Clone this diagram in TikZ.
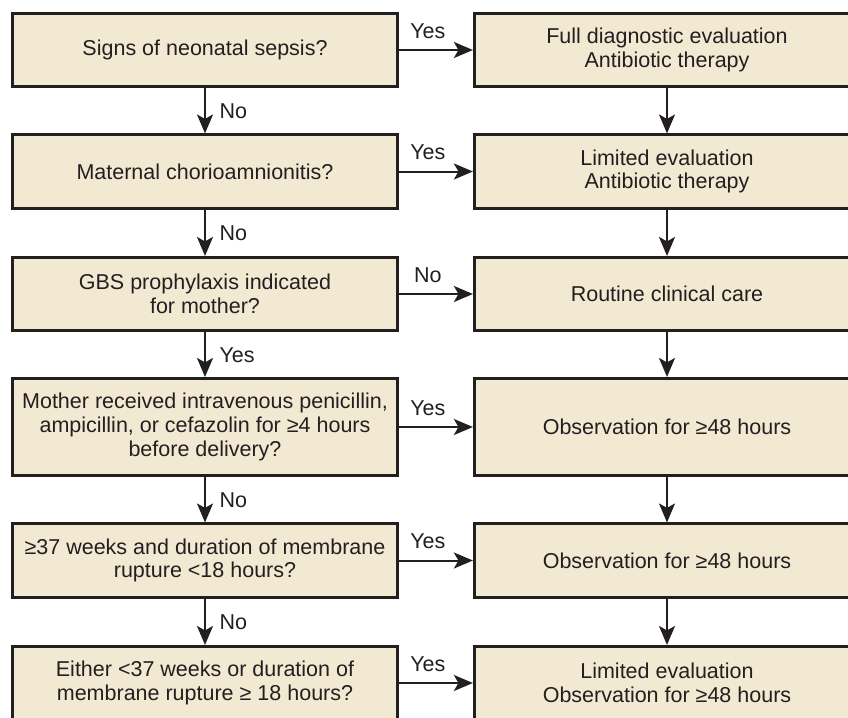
\documentclass[tikz,border=0pt]{standalone}
\usepackage{fontspec}
\setmainfont{Liberation Sans}
\usetikzlibrary{arrows.meta}
\definecolor{boxfill}{RGB}{242,233,211}
\definecolor{ink}{RGB}{35,31,32}
\begin{document}
\begin{tikzpicture}[x=1pt,y=-1pt,
  box/.style={draw=ink, fill=boxfill, line width=2.7pt, minimum width=385.5pt,
    minimum height=73.4pt, align=center, text=ink,
    font=\fontsize{21.5}{23.8}\selectfont, inner sep=0pt},
  tall/.style={minimum height=97.4pt},
  arr/.style={draw=ink, line width=2pt, -{Stealth[length=19pt,width=16pt,inset=4.5pt]}},
  lbl/.style={inner sep=0pt, text=ink, font=\fontsize{21.5}{23.8}\selectfont}]
\clip (0,0) rectangle (848,717);
\fill[white] (0,0) rectangle (848,717);
% left column
\node[box] (L1) at (205,50) {Signs of neonatal sepsis?};
\node[box] (L2) at (205,171.5) {Maternal chorioamnionitis?};
\node[box] (L3) at (205,294) {GBS prophylaxis indicated\\for mother?};
\node[box,tall] (L4) at (205,427) {Mother received intravenous penicillin,\\ampicillin, or cefazolin for ≥4 hours\\before delivery?};
\node[box] (L5) at (205,560.5) {≥37 weeks and duration of membrane\\rupture <18 hours?};
\node[box] (L6) at (205,683) {Either <37 weeks or duration of\\membrane rupture ≥ 18 hours?};
% right column
\node[box] (R1) at (667,50) {Full diagnostic evaluation\\Antibiotic therapy};
\node[box] (R2) at (667,171.5) {Limited evaluation\\Antibiotic therapy};
\node[box] (R3) at (667,294) {Routine clinical care};
\node[box,tall] (R4) at (667,427) {Observation for ≥48 hours};
\node[box] (R5) at (667,560.5) {Observation for ≥48 hours};
\node[box] (R6) at (667,683) {Limited evaluation\\Observation for ≥48 hours};
% horizontal arrows
\draw[arr] (L1.east) -- (R1.west) node[lbl, pos=0.39, anchor=base, yshift=12pt] {Yes};
\draw[arr] (L2.east) -- (R2.west) node[lbl, pos=0.39, anchor=base, yshift=12pt] {Yes};
\draw[arr] (L3.east) -- (R3.west) node[lbl, pos=0.39, anchor=base, yshift=12pt] {No};
\draw[arr] (L4.east) -- (R4.west) node[lbl, pos=0.39, anchor=base, yshift=12pt] {Yes};
\draw[arr] (L5.east) -- (R5.west) node[lbl, pos=0.39, anchor=base, yshift=12pt] {Yes};
\draw[arr] (L6.east) -- (R6.west) node[lbl, pos=0.39, anchor=base, yshift=12pt] {Yes};
% vertical arrows left
\draw[arr] (L1.south) -- (L2.north) node[lbl, midway, anchor=base west, xshift=13.5pt, yshift=-7.5pt] {No};
\draw[arr] (L2.south) -- (L3.north) node[lbl, midway, anchor=base west, xshift=13.5pt, yshift=-7.5pt] {No};
\draw[arr] (L3.south) -- (L4.north) node[lbl, midway, anchor=base west, xshift=13.5pt, yshift=-7.5pt] {Yes};
\draw[arr] (L4.south) -- (L5.north) node[lbl, midway, anchor=base west, xshift=13.5pt, yshift=-7.5pt] {No};
\draw[arr] (L5.south) -- (L6.north) node[lbl, midway, anchor=base west, xshift=13.5pt, yshift=-7.5pt] {No};
% vertical arrows right
\draw[arr] (R1.south) -- (R2.north);
\draw[arr] (R2.south) -- (R3.north);
\draw[arr] (R3.south) -- (R4.north);
\draw[arr] (R4.south) -- (R5.north);
\draw[arr] (R5.south) -- (R6.north);
\end{tikzpicture}
\end{document}
